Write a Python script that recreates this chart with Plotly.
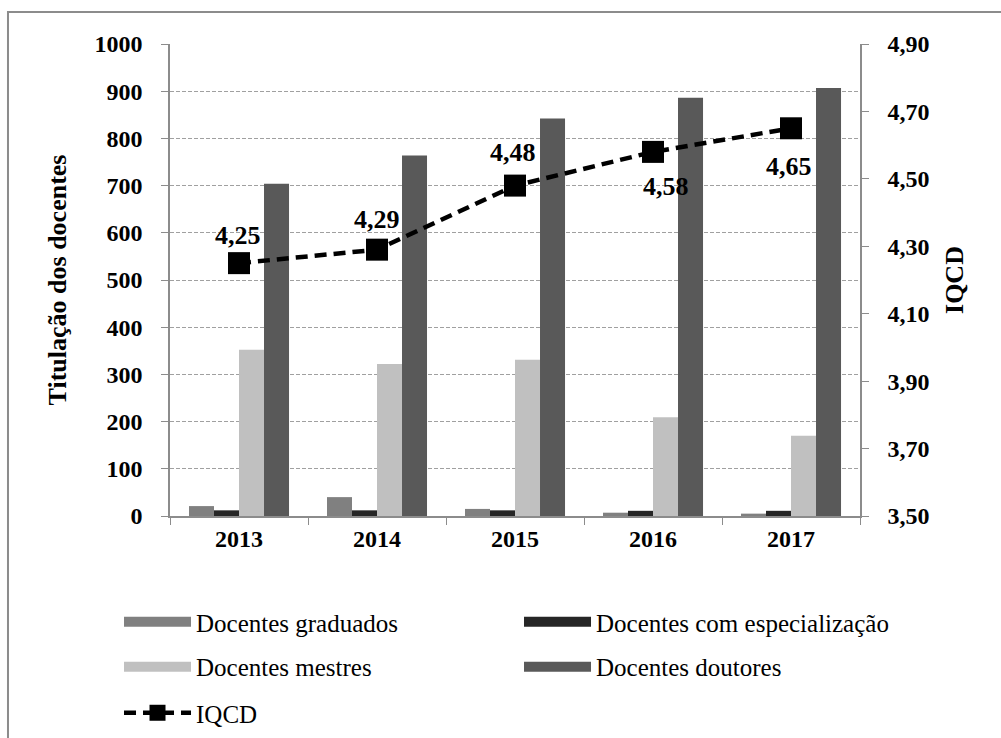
import plotly.graph_objects as go

years = ["2013", "2014", "2015", "2016", "2017"]
graduados = [21, 40, 15, 7, 5]
especializacao = [12, 12, 12, 11, 11]
mestres = [352, 322, 331, 209, 170]
doutores = [704, 764, 842, 886, 907]
iqcd = [4.25, 4.29, 4.48, 4.58, 4.65]
iqcd_labels = ["4,25", "4,29", "4,48", "4,58", "4,65"]
label_shift_x = [-1, 0, -2, 13, -2]
label_shift_y = [28, 30, 33, -35, -38]

names = ["Docentes graduados", "Docentes com especialização",
         "Docentes mestres", "Docentes doutores"]
colors = ["#808080", "#262626", "#c0c0c0", "#595959"]
series = [graduados, especializacao, mestres, doutores]
legend_of = ["legend", "legend", "legend2", "legend2"]

FONT = "Liberation Serif"

fig = go.Figure()
for i, (nm, col, vals) in enumerate(zip(names, colors, series)):
    fig.add_trace(go.Bar(
        x=years, y=vals, name=nm, marker=dict(color=col, line=dict(width=0)),
        legendgroup=nm, showlegend=False,
    ))

fig.add_trace(go.Scatter(
    x=years, y=iqcd, name="IQCD", yaxis="y2", mode="lines+markers",
    line=dict(color="black", width=4.5, dash="12px,7px"),
    marker=dict(symbol="square", size=22, color="black"),
    legend="legend3",
))

# legend-only swatches (no data drawn)
for i, (nm, col) in enumerate(zip(names, colors)):
    fig.add_trace(go.Scatter(
        x=[years[0]], y=[None], mode="lines", name=nm, legendgroup=nm,
        line=dict(color=col, width=14), legend=legend_of[i], showlegend=True,
        hoverinfo="skip",
    ))

# data labels: category axis positions are given by category index
for idx, (v, t, dx, dy) in enumerate(zip(iqcd, iqcd_labels, label_shift_x, label_shift_y)):
    fig.add_annotation(x=idx, y=v, xref="x", yref="y2", text=t, showarrow=False,
                       xshift=dx, yshift=dy,
                       font=dict(family=FONT, size=26, color="black", weight="bold"))

tickfont = dict(family=FONT, size=24, color="black", weight="bold")
titlefont = dict(family=FONT, size=26, color="black", weight="bold")

fig.update_layout(
    width=1001, height=738,
    margin=dict(l=170, r=141, t=44, b=222, autoexpand=False),
    paper_bgcolor="white", plot_bgcolor="white",
    separators=",.",
    barmode="group", bargap=0.275, bargroupgap=0,
    font=dict(family=FONT, color="black"),
    xaxis=dict(type="category", categoryorder="array", categoryarray=years,
               range=[-0.5, len(years) - 0.5],
               showline=True, linecolor="#8c8c8c", linewidth=1.5,
               ticks="outside", tickson="boundaries", ticklen=7, tickcolor="#8c8c8c",
               tickfont=tickfont, showgrid=False),
    yaxis=dict(range=[0, 1000], dtick=100, tickformat="d", showline=True,
               linecolor="#8c8c8c", linewidth=1.5, ticks="outside", ticklen=7,
               tickcolor="#8c8c8c", tickfont=tickfont, showgrid=True,
               gridcolor="#a0a0a0", griddash="4px,2px", gridwidth=1,
               zeroline=False, ticklabelstandoff=14,
               title=dict(text="Titulação dos docentes", font=titlefont, standoff=20)),
    yaxis2=dict(range=[3.5, 4.9], dtick=0.2, tick0=3.5, tickformat=".2f",
                overlaying="y", side="right", showline=True, linecolor="#8c8c8c",
                linewidth=1.5, ticks="outside", ticklen=7, tickcolor="#8c8c8c",
                tickfont=tickfont, showgrid=False, zeroline=False, ticklabelstandoff=14,
                title=dict(text="IQCD", font=titlefont, standoff=16)),
)

legend_common = dict(orientation="h", xanchor="left", yanchor="middle",
                     x=-0.0739, font=dict(family=FONT, size=25, color="black"),
                     itemwidth=67, entrywidth=318, entrywidthmode="pixels",
                     bgcolor="rgba(0,0,0,0)")
fig.update_layout(
    legend=dict(legend_common, y=-0.2246),
    legend2=dict(legend_common, y=-0.3199),
    legend3=dict(legend_common, y=-0.4174),
)

fig.add_shape(type="rect", xref="paper", yref="paper",
              x0=-0.2348, y0=-0.6, x1=1.3, y1=1.0678,
              line=dict(color="#8c8c8c", width=2), fillcolor="rgba(0,0,0,0)",
              layer="below")

fig.write_html("out.html", config={"displayModeBar": False},
               post_script="document.body.style.margin='0px';")
